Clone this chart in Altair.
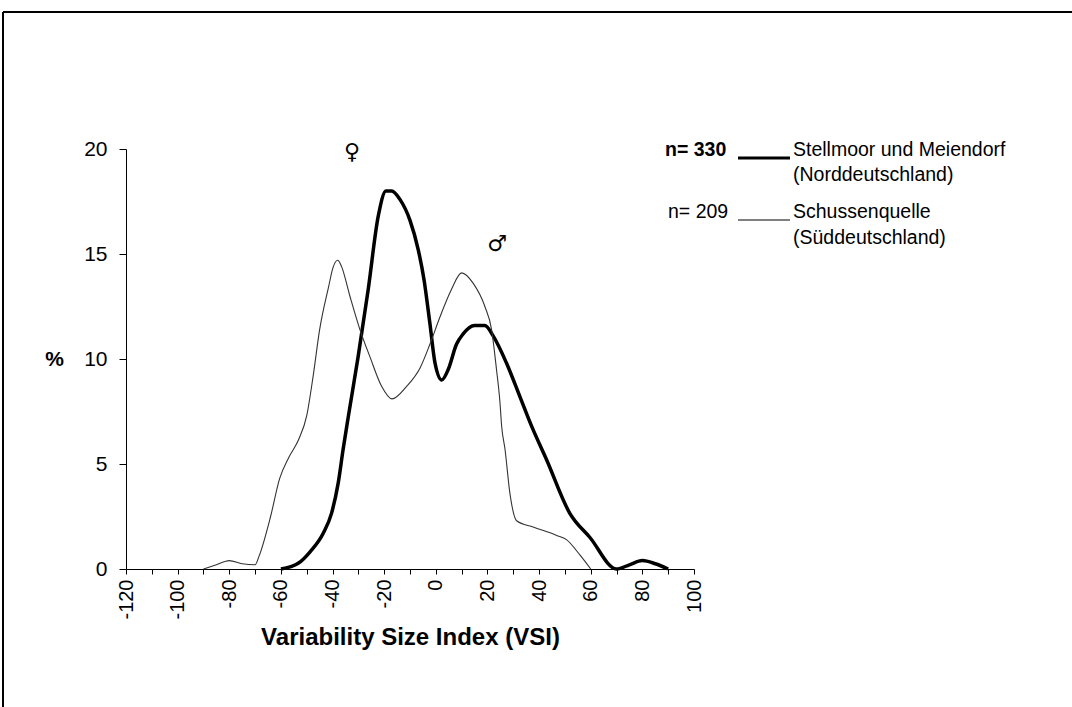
import altair as alt
import pandas as pd

# Stellmoor und Meiendorf (Norddeutschland), n = 330  (thick line)
vsi_north = [-60, -53.3, -48.7, -43.6, -40.4, -37.8, -35.9, -33.9, -30.1, -26.2, -22.3, -19.3, -17.1,
             -13.9, -10, -6.8, -4.6, -2.3, -0.3, 2.3, 4.8, 8, 10.6, 15, 19, 22.2, 27.4, 32.6, 37.1,
             42.9, 51.9, 59.7, 70, 75, 80, 85, 90]
pct_north = [0, 0.27, 0.82, 1.7, 2.65, 4.1, 5.7, 7.25, 10.1, 13.3, 16.8, 18.0, 18.0,
             17.6, 16.6, 15.2, 13.8, 11.7, 9.8, 9.0, 9.5, 10.7, 11.2, 11.6, 11.6, 11.1, 9.8, 8.2, 6.8,
             5.2, 2.65, 1.5, 0, 0.2, 0.4, 0.25, 0]

# Schussenquelle (Süddeutschland), n = 209  (thin line)
vsi_south = [-90, -85, -80, -75, -70, -68.5, -64, -60.5, -57, -53, -50, -47.5, -45, -41.6, -39.7,
             -38, -36.5, -33.3, -29.4, -25.5, -21, -17, -11.3, -6, -2.3, 1.6, 6, 10, 14.5, 19, 21.6,
             23.5, 24.8, 25.5, 26.8, 28.7, 31.3, 37.7, 46.8, 50.6, 55.8, 60]
pct_south = [0, 0.2, 0.4, 0.25, 0.2, 0.6, 2.5, 4.3, 5.3, 6.2, 7.3, 9.2, 11.4, 13.4, 14.4,
             14.7, 14.4, 13.0, 11.4, 10.1, 8.7, 8.1, 8.7, 9.6, 10.7, 12.0, 13.3, 14.1, 13.6, 12.5, 11.4,
             9.5, 8.0, 6.8, 5.7, 3.6, 2.3, 2.0, 1.6, 1.4, 0.67, 0]

series_names = ["Stellmoor und Meiendorf", "Schussenquelle"]
x_ticks = list(range(-120, 101, 10))
y_ticks = [0, 5, 10, 15, 20]

df = pd.concat([
    pd.DataFrame({"vsi": vsi_north, "pct": pct_north, "series": series_names[0]}),
    pd.DataFrame({"vsi": vsi_south, "pct": pct_south, "series": series_names[1]}),
])

FONT = "Liberation Sans"
one = alt.Data(values=[{}])

lines = alt.Chart(df).mark_line(interpolate="monotone").encode(
    x=alt.X("vsi:Q",
            scale=alt.Scale(domain=[-120, 100], nice=False, zero=False),
            axis=alt.Axis(values=x_ticks,
                          labelExpr="datum.value % 20 == 0 ? '' + datum.value : ''",
                          labelAngle=270, labelFontSize=20, labelFont=FONT, labelColor="black",
                          labelPadding=5, tickSize=5, tickColor="black", domainColor="black",
                          grid=False, title="Variability Size Index (VSI)",
                          titleFont=FONT, titleFontSize=24, titleFontWeight="bold",
                          titleColor="black", titleY=68, titleBaseline="middle")),
    y=alt.Y("pct:Q",
            scale=alt.Scale(domain=[0, 20], nice=False, zero=True),
            axis=alt.Axis(values=y_ticks, labelFontSize=21, labelFont=FONT, labelColor="black",
                          labelPadding=12, tickSize=7, tickColor="black", domainColor="black",
                          grid=False, title="%", titleAngle=0, titleFont=FONT, titleFontSize=21,
                          titleFontWeight="bold", titleColor="black", titleX=-72, titleY=210,
                          titleAlign="center", titleBaseline="middle")),
    strokeWidth=alt.StrokeWidth("series:N", scale=alt.Scale(domain=series_names, range=[3.5, 1.1]),
                                legend=None),
    color=alt.Color("series:N", scale=alt.Scale(domain=series_names, range=["#000000", "#333333"]),
                    legend=None),
    detail="series:N",
)


def txt(s, x, y, size=19.5, weight="normal", align="left", font=FONT):
    return alt.Chart(one).mark_text(text=s, align=align, baseline="middle", fontSize=size,
                                    fontWeight=weight, font=font, color="black").encode(
        x=alt.value(x), y=alt.value(y))


def seg(x1, x2, y, w):
    return alt.Chart(one).mark_rule(color="black", strokeWidth=w).encode(
        x=alt.value(x1), x2=alt.value(x2), y=alt.value(y))


legend_layers = [
    txt("n= 330", 539, 1, weight="bold"),
    seg(612, 664, 9, 3),
    txt("Stellmoor und Meiendorf", 667, 1),
    txt("(Norddeutschland)", 667, 26),
    txt("n= 209", 542, 63),
    seg(612, 664, 71, 1),
    txt("Schussenquelle", 667, 63),
    txt("(Süddeutschland)", 667, 89),
    txt("♀", 226, 3, size=22, align="center", font="DejaVu Sans"),
    txt("♂", 371, 95, size=22, align="center", font="DejaVu Sans"),
]

frame = [
    alt.Chart(one).mark_rule(color="black", strokeWidth=2).encode(
        x=alt.value(-123), x2=alt.value(960), y=alt.value(-137)),
    alt.Chart(one).mark_rule(color="black", strokeWidth=2).encode(
        x=alt.value(-123), y=alt.value(-137), y2=alt.value(570)),
]

chart = alt.layer(lines, *legend_layers, *frame).properties(
    width=568, height=420,
    padding={"left": 126, "top": 149, "right": 378, "bottom": 138},
    autosize=alt.AutoSizeParams(type="none"),
    background="white",
).configure_view(stroke=None)

chart.save("out.html", embed_options={"renderer": "svg", "actions": False})
